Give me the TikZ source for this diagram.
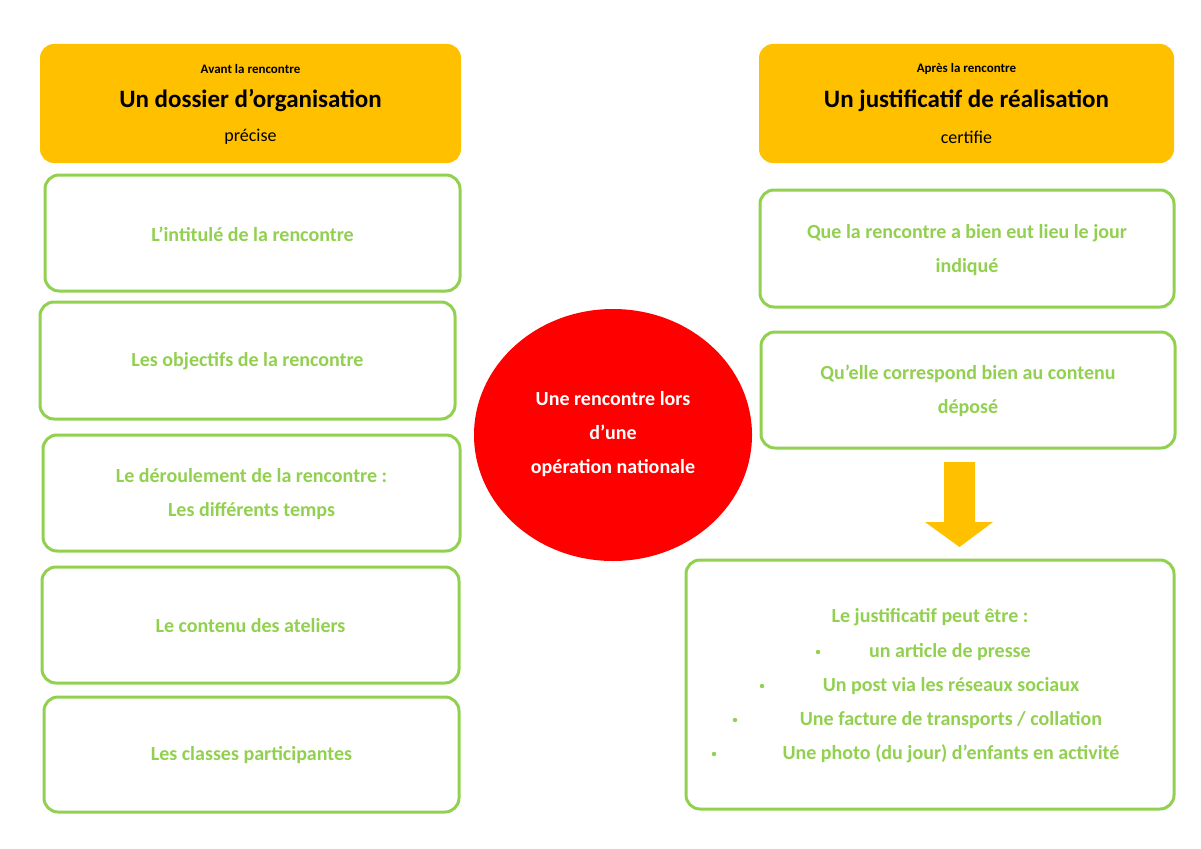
\documentclass[tikz,border=0pt]{standalone}
\usepackage{fontspec}
\setmainfont{Carlito}
\definecolor{gold}{HTML}{FFC000}
\definecolor{lgreen}{HTML}{92D050}
\begin{document}
\begin{tikzpicture}[x=1pt,y=-1pt,
  hdr/.style={fill=gold,rounded corners=14pt},
  gbox/.style={draw=lgreen,line width=3pt,rounded corners=14pt,fill=white},
  gtxt/.style={text=lgreen,font=\fontsize{20}{34}\selectfont\bfseries,align=center},
  bul/.style={text=lgreen,font=\fontsize{20}{24}\selectfont\bfseries}]
\useasboundingbox[fill=white] (0,0) rectangle (1201,848);
% left header
\fill[hdr] (40,44) rectangle (461,163);
\node (la) at (250.5,69) {\fontsize{13}{15}\selectfont\bfseries Avant la rencontre};
\node (lb) at (250.5,101) {\fontsize{25}{30}\selectfont\bfseries Un dossier d’organisation};
\node (lc) at (250.5,137) {\fontsize{18}{22}\selectfont précise};
% right header
\fill[hdr] (759,44) rectangle (1174,163);
\node (ra) at (966.5,69) {\fontsize{13}{15}\selectfont\bfseries Après la rencontre};
\node (rb) at (966.5,101) {\fontsize{25}{30}\selectfont\bfseries Un justificatif de réalisation};
\node (rc) at (966.5,137) {\fontsize{18}{22}\selectfont certifie};
% left boxes
\draw[gbox] (45,175) rectangle (460,291);
\node[gtxt] (l1) at (252.5,234) {L’intitulé de la rencontre};
\draw[gbox] (40,302) rectangle (455,419);
\node[gtxt] (l2) at (247.5,361) {Les objectifs de la rencontre};
\draw[gbox] (43,435) rectangle (460,551);
\node[gtxt] (l3) at (251.5,494) {Le déroulement de la rencontre :\\Les différents temps};
\draw[gbox] (42,567) rectangle (459,683);
\node[gtxt] (l4) at (250.5,626) {Le contenu des ateliers};
\draw[gbox] (44,697) rectangle (459,812);
\node[gtxt] (l5) at (251.5,755) {Les classes participantes};
% circle
\fill[red] (613,435) ellipse [x radius=139, y radius=126];
\node[text=white,font=\fontsize{20}{34}\selectfont\bfseries,align=center] (c) at (613,434) {Une rencontre lors\\d’une\\opération nationale};
% right boxes
\draw[gbox] (760,190) rectangle (1174,307);
\node[gtxt] (r1) at (967,250) {Que la rencontre a bien eut lieu le jour\\indiqué};
\draw[gbox] (761,332) rectangle (1175,448);
\node[gtxt] (r2) at (968,391) {Qu’elle correspond bien au contenu\\déposé};
% arrow
\fill[gold] (944,462) -- (975,462) -- (975,522) -- (993,522) -- (959.5,547) -- (925,522) -- (944,522) -- cycle;
% bottom box
\draw[gbox] (686,560) rectangle (1174,809);
\node[bul] (b0) at (930,617) {Le justificatif peut être :};
\node[bul] (b1) at (950,652) {un article de presse};
\node[bul] (b2) at (951,686) {Un post via les réseaux sociaux};
\node[bul] (b3) at (951,720) {Une facture de transports / collation};
\node[bul] (b4) at (951,754) {Une photo (du jour) d’enfants en activité};
\foreach \x/\y in {818/652,762/686,735/720,714/754}
  \fill[lgreen] (\x,\y) circle (2.2);
\end{tikzpicture}
\end{document}
